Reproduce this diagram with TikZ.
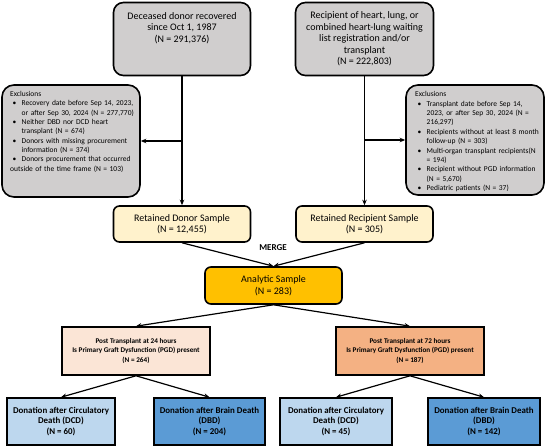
\documentclass[tikz,border=0pt]{standalone}
\usepackage{fontspec}
\setmainfont{Carlito}
\usetikzlibrary{arrows.meta}
\definecolor{grayfill}{HTML}{D0CECE}
\definecolor{retfill}{HTML}{FFF2CC}
\definecolor{anafill}{HTML}{FFC000}
\definecolor{peach}{HTML}{FBE5D6}
\definecolor{salmon}{HTML}{F4B183}
\definecolor{lblue}{HTML}{BDD7EE}
\definecolor{dblue}{HTML}{5B9BD5}
\newcommand\bitem{\par\noindent\hangindent=11.5bp\hangafter=1\makebox[11.5bp][l]{\hspace{2.5bp}•}}
\begin{document}
\begin{tikzpicture}[x=1bp,y=-1bp,
  basebox/.style={draw=black, line width=1.6bp, align=center, inner sep=0pt},
  topbox/.style={basebox, fill=grayfill, rounded corners=10bp, minimum width=137bp, minimum height=73bp, font=\fontsize{10bp}{11.6bp}\selectfont},
  exclbox/.style={basebox, fill=grayfill, rounded corners=12bp, minimum width=138bp},
  excltext/.style={anchor=north west, inner sep=0pt, align=left, font=\fontsize{7.5bp}{9.35bp}\selectfont},
  retbox/.style={basebox, fill=retfill, rounded corners=6bp, minimum width=137bp, minimum height=36bp, font=\fontsize{10bp}{11.5bp}\selectfont},
  anabox/.style={basebox, fill=anafill, rounded corners=6bp, minimum width=137bp, minimum height=37bp, font=\fontsize{10bp}{12.5bp}\selectfont},
  pgdbox/.style={basebox, minimum width=148bp, minimum height=48bp, font=\bfseries\fontsize{7.2bp}{9.4bp}\selectfont},
  outbox/.style={basebox, minimum height=47bp, font=\bfseries\fontsize{8.9bp}{10.6bp}\selectfont},
  arr/.style={-{Stealth[length=5.5bp,width=4.5bp]}, line width=1.2bp}
]
\useasboundingbox (0,0) rectangle (546,447);
% top boxes
\node[topbox] (donor) at (182,39) {Deceased donor recovered\\since Oct 1, 1987\\(N = 291,376)\\\mbox{}\\\mbox{}};
\node[topbox, minimum width=138bp] (recip) at (364.5,39) {Recipient of heart, lung, or\\combined heart-lung waiting\\list registration and/or\\transplant\\(N = 222,803)};
% exclusion boxes
\node[exclbox, minimum height=112bp] (exclL) at (71,141) {};
\node[excltext, text width=132bp] (exclLtxt) at (10,91) {Exclusions
\bitem Recovery date before Sep 14, 2023,\newline or after Sep 30, 2024 (N = 277,770)
\bitem Neither DBD nor DCD heart\newline transplant (N = 674)
\bitem Donors with missing procurement\newline information (N = 374)
\bitem Donors procurement that occurred\newline outside of the time frame (N = 103)};
\node[exclbox, minimum height=110bp] (exclR) at (475,140) {};
\node[excltext, text width=128bp] (exclRtxt) at (415,91.5) {Exclusions
\bitem Transplant date before Sep 14,\newline 2023, or after Sep 30, 2024 (N =\newline 216,297)
\bitem Recipients without at least 8 month\newline follow-up (N = 303)
\bitem Multi-organ transplant recipients(N\newline = 194)
\bitem Recipient without PGD information\newline (N = 5,670)
\bitem Pediatric patients (N = 37)};
% retained
\node[retbox] (retD) at (182,224) {Retained Donor Sample\\(N = 12,455)};
\node[retbox] (retR) at (364.5,224) {Retained Recipient Sample\\(N = 305)};
\node[font=\bfseries\fontsize{9bp}{10bp}\selectfont, inner sep=0pt] (mergelbl) at (273,248) {MERGE};
\node[anabox] (ana) at (273.5,285.5) {Analytic Sample\\(N = 283)};
% PGD
\node[pgdbox, fill=peach] (pgd24) at (136,351) {Post Transplant at 24 hours\\Is Primary Graft Dysfunction (PGD) present\\(N = 264)};
\node[pgdbox, fill=salmon] (pgd72) at (410,351) {Post Transplant at 72 hours\\Is Primary Graft Dysfunction (PGD) present\\(N = 187)};
% outcomes
\node[outbox, fill=lblue, minimum width=108bp] (dcd24) at (61,421.5) {Donation after Circulatory\\Death (DCD)\\(N = 60)};
\node[outbox, fill=dblue, minimum width=111bp] (dbd24) at (209.5,421.5) {Donation after Brain Death\\(DBD)\\(N = 204)};
\node[outbox, fill=lblue, minimum width=112bp] (dcd72) at (336,421.5) {Donation after Circulatory\\Death (DCD)\\(N = 45)};
\node[outbox, fill=dblue, minimum width=112bp] (dbd72) at (484,421.5) {Donation after Brain Death\\(DBD)\\(N = 142)};
% connectors
\draw[arr] (donor.south) -- (retD.north);
\draw[arr] (donor.south |- exclL.east) -- (exclL.east);
\draw[arr] (recip.south) -- (retR.north);
\draw[arr] (recip.south |- exclR.west) -- (exclR.west);
\draw[arr] (retD.south) -- (ana.north);
\draw[arr] (retR.south) -- (ana.north);
\draw[arr] (ana.south) -- (pgd24.north);
\draw[arr] (ana.south) -- (pgd72.north);
\draw[arr] (pgd24.south) -- (dcd24.north);
\draw[arr] (pgd24.south) -- (dbd24.north);
\draw[arr] (pgd72.south) -- (dcd72.north);
\draw[arr] (pgd72.south) -- (dbd72.north);
\end{tikzpicture}
\end{document}
